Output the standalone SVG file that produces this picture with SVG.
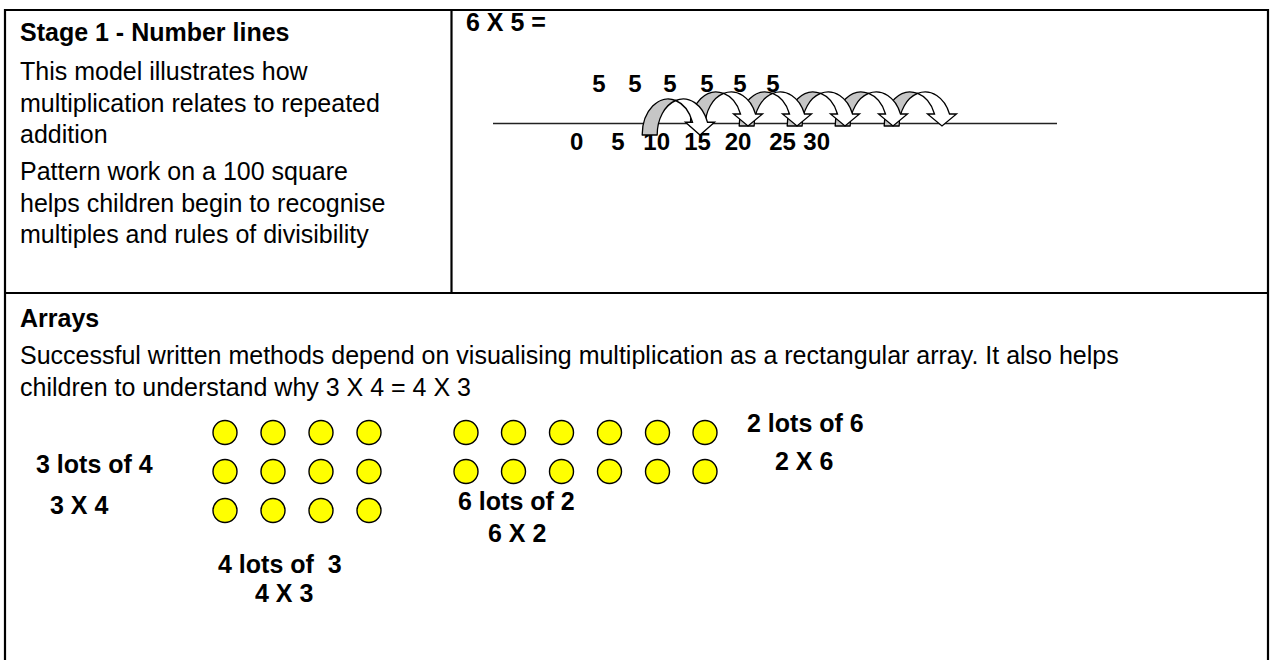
<svg xmlns="http://www.w3.org/2000/svg" width="1270" height="660" viewBox="0 0 1270 660">
<style>
text{font-family:"Liberation Sans",Arial,sans-serif;font-size:25px;fill:#000}
.b{font-weight:bold}
.nl{font-weight:bold;font-size:24px;text-anchor:middle}
.rule{stroke:#000;stroke-width:2.2;fill:none}
.dot{fill:#ffff00;stroke:#000;stroke-width:1.4}
.back{fill:#c6c6c6;stroke:#000;stroke-width:1.3;stroke-linejoin:round}
.front{fill:#fff;stroke:#000;stroke-width:1.3;stroke-linejoin:miter}
</style>
<defs>
<g id="jump">
<path class="back" d="M-57.83,0 A26,34 0 0 1 -24.33,-32.55 A26,34 0 0 0 -42.83,0 Z"/>
<path class="front" d="M-24.33,-32.55 A26,34 0 0 1 7.5,-12 L14.5,-12 L0,0 L-14.5,-12 L-7.5,-12 A26,34 0 0 0 -24.33,-32.55 Z"/>
</g>
<circle id="c" r="12" class="dot"/>
</defs>
<rect width="1270" height="660" fill="#fff"/>
<g id="table">
<line class="rule" x1="4" y1="10" x2="1269" y2="10"/>
<line class="rule" x1="5" y1="9" x2="5" y2="660"/>
<line class="rule" x1="1268" y1="9" x2="1268" y2="660"/>
<line class="rule" x1="5" y1="293" x2="1268" y2="293"/>
<line class="rule" x1="451.5" y1="10" x2="451.5" y2="293"/>
</g>
<g id="stage1-text">
<text class="b" x="20" y="41">Stage 1 - Number lines</text>
<text x="20" y="80">This model illustrates how</text>
<text x="20" y="111.5">multiplication relates to repeated</text>
<text x="20" y="143">addition</text>
<text x="20" y="180">Pattern work on a 100 square</text>
<text x="20" y="211.5">helps children begin to recognise</text>
<text x="20" y="243">multiples and rules of divisibility</text>
</g>
<g id="number-line">
<text class="b" x="466" y="31">6 X 5 =</text>
<text class="nl" x="599" y="92">5</text>
<text class="nl" x="635" y="92">5</text>
<text class="nl" x="670" y="92">5</text>
<text class="nl" x="707" y="92">5</text>
<text class="nl" x="740" y="92">5</text>
<text class="nl" x="773" y="92">5</text>
<line x1="493" y1="123.5" x2="1057" y2="123.5" stroke="#222" stroke-width="1.5"/>
<text class="nl" x="576.7" y="150">0</text>
<text class="nl" x="618" y="150">5</text>
<text class="nl" x="656.7" y="150">10</text>
<text class="nl" x="697.5" y="150">15</text>
<text class="nl" x="738" y="150">20</text>
<text class="nl" x="782.5" y="150">25</text>
<text class="nl" x="816.7" y="150">30</text>
</g>
<g id="jumps">
<use href="#jump" transform="translate(942,126)"/>
<use href="#jump" transform="translate(893,126)"/>
<use href="#jump" transform="translate(845,126)"/>
<use href="#jump" transform="translate(797,126)"/>
<use href="#jump" transform="translate(748,126)"/>
<use href="#jump" transform="translate(700,135) scale(1,1.06)"/>
</g>
<g id="arrays-text">
<text class="b" x="20" y="327">Arrays</text>
<text x="20" y="364">Successful written methods depend on visualising multiplication as a rectangular array. It also helps</text>
<text x="20" y="396">children to understand why 3 X 4 = 4 X 3</text>
</g>
<g id="array-3x4">
<text class="b" x="36" y="473">3 lots of 4</text>
<text class="b" x="50" y="514">3 X 4</text>
</g>
<g id="array-4x3">
<use href="#c" x="225" y="432.5"/><use href="#c" x="273" y="432.5"/><use href="#c" x="321" y="432.5"/><use href="#c" x="369" y="432.5"/>
<use href="#c" x="225" y="471.5"/><use href="#c" x="273" y="471.5"/><use href="#c" x="321" y="471.5"/><use href="#c" x="369" y="471.5"/>
<use href="#c" x="225" y="510.5"/><use href="#c" x="273" y="510.5"/><use href="#c" x="321" y="510.5"/><use href="#c" x="369" y="510.5"/>
<text class="b" x="218" y="573" style="white-space:pre">4 lots of  3</text>
<text class="b" x="255" y="602">4 X 3</text>
</g>
<g id="array-6x2">
<use href="#c" x="466" y="432.5"/><use href="#c" x="513.5" y="432.5"/><use href="#c" x="561.5" y="432.5"/><use href="#c" x="609.5" y="432.5"/><use href="#c" x="657.5" y="432.5"/><use href="#c" x="705" y="432.5"/>
<use href="#c" x="466" y="471.5"/><use href="#c" x="513.5" y="471.5"/><use href="#c" x="561.5" y="471.5"/><use href="#c" x="609.5" y="471.5"/><use href="#c" x="657.5" y="471.5"/><use href="#c" x="705" y="471.5"/>
<text class="b" x="458" y="510">6 lots of 2</text>
<text class="b" x="488" y="542">6 X 2</text>
</g>
<g id="array-2x6">
<text class="b" x="747" y="432">2 lots of 6</text>
<text class="b" x="775" y="470">2 X 6</text>
</g>
</svg>
